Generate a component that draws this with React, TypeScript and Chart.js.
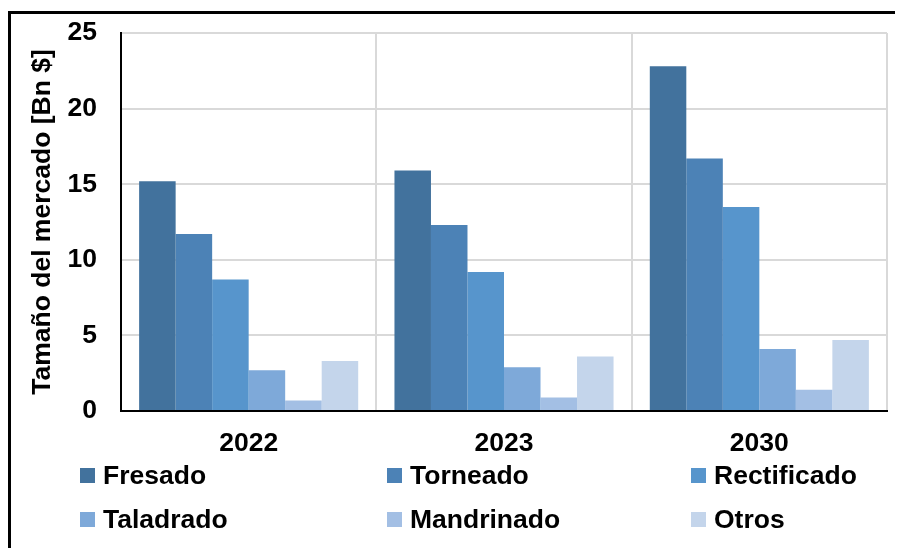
import React, { useEffect, useRef } from "react";
import { Chart, registerables } from "chart.js";

Chart.register(...registerables);

// Market size by machining process, billions of dollars
const years = ["2022", "2023", "2030"];
const processes = ["Fresado", "Torneado", "Rectificado", "Taladrado", "Mandrinado", "Otros"];
const fresado = [15.2, 15.9, 22.8];
const torneado = [11.7, 12.3, 16.7];
const rectificado = [8.7, 9.2, 13.5];
const taladrado = [2.7, 2.9, 4.1];
const mandrinado = [0.7, 0.9, 1.4];
const otros = [3.3, 3.6, 4.7];
const yTicks = [0, 5, 10, 15, 20, 25];
const colors = ["#42729D", "#4C82B6", "#5795CC", "#7EA9D9", "#A3BFE4", "#C4D5EB"];

const FONT = "'Liberation Sans', Arial, Helvetica, sans-serif";
const FONT_SIZE = 26.5;

export default function App() {
  const canvasRef = useRef<HTMLCanvasElement | null>(null);

  useEffect(() => {
    if (!canvasRef.current) return;
    const series = [fresado, torneado, rectificado, taladrado, mandrinado, otros];
    const chart = new Chart(canvasRef.current, {
      type: "bar",
      data: {
        labels: years,
        datasets: processes.map((name, i) => ({
          label: name,
          data: series[i],
          backgroundColor: colors[i],
          borderWidth: 0,
          categoryPercentage: 0.858,
          barPercentage: 1,
        })),
      },
      options: {
        responsive: false,
        animation: false,
        layout: { padding: { top: 25, right: 16, left: 0, bottom: 0 } },
        plugins: {
          legend: { display: false },
          tooltip: { enabled: false },
        },
        scales: {
          x: {
            grid: { color: "#D9D9D9", lineWidth: 2, drawTicks: false, offset: true },
            border: { color: "#000000", width: 2 },
            ticks: {
              color: "#000000",
              padding: 17,
              font: { family: FONT, size: FONT_SIZE, weight: "bold" },
            },
            afterFit: (scale: any) => {
              scale.height = 137;
            },
          },
          y: {
            min: 0,
            max: 25,
            afterBuildTicks: (scale: any) => {
              scale.ticks = yTicks.map((v) => ({ value: v }));
            },
            grid: { color: "#D9D9D9", lineWidth: 2, drawTicks: false },
            border: { color: "#000000", width: 2 },
            ticks: {
              color: "#000000",
              padding: 24,
              font: { family: FONT, size: FONT_SIZE, weight: "bold" },
            },
            title: {
              display: true,
              text: "Tamaño del mercado [Bn $]",
              color: "#000000",
              padding: { top: 19, bottom: 0 },
              font: { family: FONT, size: FONT_SIZE, weight: "bold" },
            },
            afterFit: (scale: any) => {
              scale.width = 113;
              scale.paddingTop = 0;
              scale.paddingBottom = 0;
            },
          },
        },
      },
    });
    return () => chart.destroy();
  }, []);

  const colX = [72, 379, 683];
  const rowY = [467, 511];

  return (
    <div style={{ position: "relative", width: 895, height: 540, overflow: "hidden", background: "#fff" }}>
      <div
        style={{
          position: "absolute",
          left: 0,
          top: 3,
          width: 1000,
          height: 1000,
          borderLeft: "3px solid #000",
          borderTop: "3px solid #000",
          boxSizing: "border-box",
        }}
      />
      <canvas ref={canvasRef} width={895} height={540} style={{ position: "absolute", left: 0, top: 0 }} />
      {processes.map((name, i) => (
        <div
          key={name}
          style={{
            position: "absolute",
            left: colX[i % 3],
            top: rowY[Math.floor(i / 3)] - 16,
            height: 32,
            display: "flex",
            alignItems: "center",
            fontFamily: FONT,
            fontSize: FONT_SIZE,
            fontWeight: "bold",
            color: "#000",
            whiteSpace: "nowrap",
          }}
        >
          <span style={{ display: "inline-block", width: 15, height: 15, background: colors[i], marginRight: 8 }} />
          {name}
        </div>
      ))}
    </div>
  );
}
